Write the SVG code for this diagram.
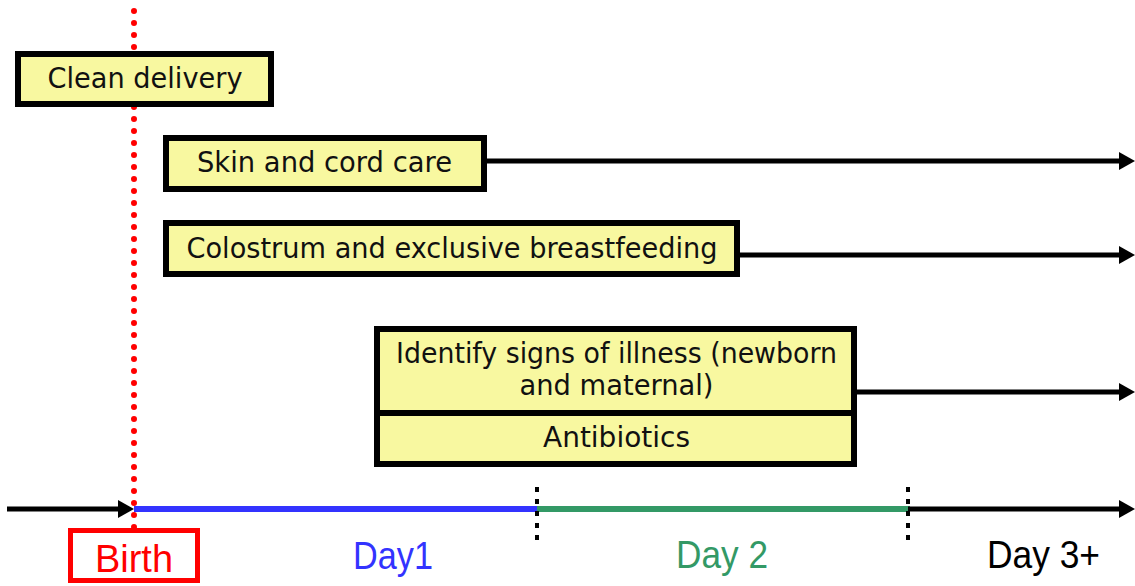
<svg xmlns="http://www.w3.org/2000/svg" width="1135" height="586" viewBox="0 0 1135 586">
  <style>
    .box { fill: #F8F8A0; stroke: #000; stroke-width: 6; }
    .btxt { font-family: "DejaVu Sans", "Liberation Sans", sans-serif; font-size: 27.5px; fill: #111; text-anchor: middle; }
    .ttxt { font-family: "Liberation Sans", Arial, sans-serif; font-size: 38px; text-anchor: middle; }
    .arrow { stroke: #000; stroke-width: 5; fill: none; marker-end: url(#head); }
    .tick { stroke: #000; stroke-width: 4; stroke-dasharray: 5 7; }
  </style>
  <defs>
    <marker id="head" markerUnits="userSpaceOnUse" viewBox="0 0 16 18" refX="9" refY="9" markerWidth="16" markerHeight="18" orient="auto">
      <path d="M0,0 L16,9 L0,18 Z" fill="#000"/>
    </marker>
  </defs>
  <rect width="1135" height="586" fill="#fff"/>

  <!-- birth marker line -->
  <line x1="134" y1="11" x2="134" y2="528" stroke="#FF0000" stroke-width="6" stroke-linecap="round" stroke-dasharray="0 12"/>

  <g id="connectors">
    <line class="arrow" x1="487" y1="161" x2="1128" y2="161"/>
    <line class="arrow" x1="740" y1="255" x2="1128" y2="255"/>
    <line class="arrow" x1="857" y1="392" x2="1128" y2="392"/>
    <!-- timeline -->
    <line class="arrow" x1="7" y1="509" x2="127" y2="509"/>
    <line x1="134" y1="509" x2="537" y2="509" stroke="#3333FF" stroke-width="6"/>
    <line x1="537" y1="509" x2="910" y2="509" stroke="#339966" stroke-width="6"/>
    <line class="arrow" x1="908" y1="509" x2="1128" y2="509"/>
    <line class="tick" x1="537" y1="487" x2="537" y2="542"/>
    <line class="tick" x1="908" y1="487" x2="908" y2="542"/>
  </g>

  <g id="clean-delivery">
    <rect class="box" x="18" y="54" width="253" height="50"/>
    <text class="btxt" x="145" y="88" textLength="195" lengthAdjust="spacingAndGlyphs">Clean delivery</text>
  </g>

  <g id="skin-cord-care">
    <rect class="box" x="166" y="138" width="318" height="51"/>
    <text class="btxt" x="324.5" y="172" textLength="255" lengthAdjust="spacingAndGlyphs">Skin and cord care</text>
  </g>

  <g id="colostrum">
    <rect class="box" x="166" y="223" width="571" height="51"/>
    <text class="btxt" x="452" y="258" textLength="531" lengthAdjust="spacingAndGlyphs">Colostrum and exclusive breastfeeding</text>
  </g>

  <g id="illness-antibiotics">
    <rect class="box" x="377" y="329" width="477" height="135"/>
    <line x1="377" y1="413" x2="854" y2="413" stroke="#000" stroke-width="6"/>
    <text class="btxt" x="616.5" y="363" textLength="441" lengthAdjust="spacingAndGlyphs">Identify signs of illness (newborn</text>
    <text class="btxt" x="616.5" y="395" textLength="194" lengthAdjust="spacingAndGlyphs">and maternal)</text>
    <text class="btxt" x="616.5" y="447" textLength="147" lengthAdjust="spacingAndGlyphs">Antibiotics</text>
  </g>

  <g id="birth">
    <rect x="70.5" y="530.5" width="127" height="50" fill="#fff" stroke="#FF0000" stroke-width="5"/>
    <text class="ttxt" x="134" y="572" fill="#FF0000" textLength="78" lengthAdjust="spacingAndGlyphs">Birth</text>
  </g>

  <g id="day-labels">
    <text class="ttxt" x="393" y="569" fill="#3333FF" textLength="80" lengthAdjust="spacingAndGlyphs">Day1</text>
    <text class="ttxt" x="722" y="568" fill="#339966" textLength="92" lengthAdjust="spacingAndGlyphs">Day 2</text>
    <text class="ttxt" x="1043.5" y="568" fill="#000" textLength="113" lengthAdjust="spacingAndGlyphs">Day 3+</text>
  </g>
</svg>
